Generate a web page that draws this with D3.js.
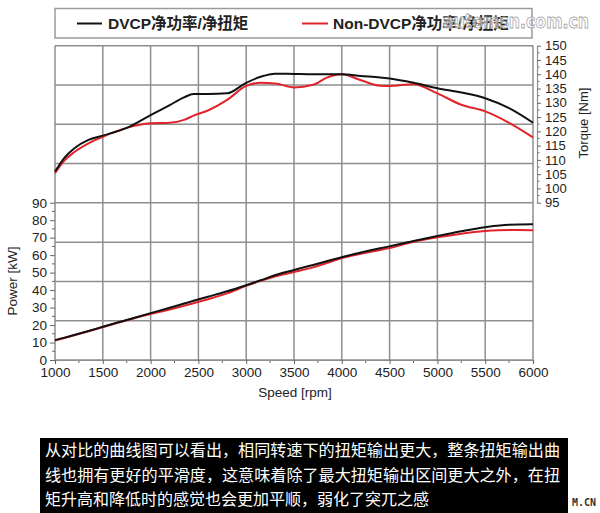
<!DOCTYPE html>
<html><head><meta charset="utf-8">
<script src="https://cdnjs.cloudflare.com/ajax/libs/d3/7.8.5/d3.min.js"></script>
<style>
html,body{margin:0;padding:0;background:#fff;}
svg{display:block;}
</style></head>
<body>
<svg id="chart" width="600" height="513"></svg>
<script>
// ---- data ----
const speed = [1000,1100,1200,1350,1500,1750,2000,2200,2350,2450,2600,2800,3000,3150,3300,3500,3700,3850,4000,4200,4400,4500,4750,5000,5250,5500,5750,6000];
const torqueDVCP = [105.9,110.8,114.0,117.0,118.5,121.2,125.7,129.2,131.9,133.1,133.1,133.3,137.0,139.1,140.2,140.1,140.0,140.0,140.0,139.4,138.9,138.5,137.0,135.1,133.6,131.6,128.1,123.0];
const torqueNon = [105.3,109.8,112.7,115.8,118.1,121.2,122.8,123.0,124.0,125.5,127.3,131.0,135.9,137.0,136.8,135.4,136.3,138.9,140.0,137.9,136.0,135.9,136.5,133.3,129.3,127.0,123.0,117.9];
const powerDVCP = [11.4,12.8,14.3,16.6,19.0,22.9,26.8,29.9,32.3,33.9,36.2,39.3,42.8,45.6,48.5,51.5,54.4,56.6,58.8,61.5,63.9,65.0,68.1,71.0,73.7,76.0,77.4,77.6];
const powerNon = [11.2,12.6,14.1,16.4,18.8,22.7,26.3,28.9,31.0,32.5,34.8,38.1,42.4,45.3,47.8,50.3,53.0,55.6,58.3,60.8,62.9,64.0,67.6,70.2,72.3,73.8,74.4,74.3];
const speedTicks = [1000,1500,2000,2500,3000,3500,4000,4500,5000,5500,6000];
const powerTicks = [0,10,20,30,40,50,60,70,80,90];
const torqueTicks = [95,100,105,110,115,120,125,130,135,140,145,150];
const seriesNames = ["DVCP净功率/净扭矩","Non-DVCP净功率/净扭矩"];
const captionLines = [
  "从对比的曲线图可以看出，相同转速下的扭矩输出更大，整条扭矩输出曲",
  "线也拥有更好的平滑度，这意味着除了最大扭矩输出区间更大之外，在扭",
  "矩升高和降低时的感觉也会更加平顺，弱化了突兀之感"
];

// ---- layout ----
const L = 55, R = 533, T = 45.7, B = 360;
const svg = d3.select("#chart");
const font = "'Liberation Sans', Arial, 'Noto Sans CJK SC', sans-serif";
const gridColor = "#8e8e8e";
const black = "#111", red = "#e0242a";

const x = d3.scaleLinear().domain([1000,6000]).range([L,R]);
const yP = d3.scaleLinear().domain([0,90]).range([B,202.7]);
const yT = d3.scaleLinear().domain([95,150]).range([202.7,T]);
const yGrid = d3.scaleLinear().domain([0,8]).range([B,T]);

// legend box
svg.append("rect").attr("x",55).attr("y",8.5).attr("width",477).attr("height",29.5)
  .attr("fill","#fff").attr("stroke","#9a9a9a").attr("stroke-width",1.5);
const leg = [{x1:77,x2:102,tx:108,c:black,t:seriesNames[0]},{x1:302,x2:328,tx:333,c:red,t:seriesNames[1]}];
leg.forEach(d=>{
  svg.append("line").attr("x1",d.x1).attr("x2",d.x2).attr("y1",23.5).attr("y2",23.5)
    .attr("stroke",d.c).attr("stroke-width",2);
  svg.append("text").attr("x",d.tx).attr("y",29).attr("font-family",font)
    .attr("font-size",15.5).attr("font-weight","bold").attr("fill","#222").text(d.t);
});

// grid
const g = svg.append("g");
g.selectAll("line.h").data(d3.range(9)).join("line")
  .attr("x1",L).attr("x2",R).attr("y1",d=>yGrid(d)).attr("y2",d=>yGrid(d))
  .attr("stroke",gridColor).attr("stroke-width",1.5);
g.selectAll("line.v").data(speedTicks).join("line")
  .attr("x1",d=>x(d)).attr("x2",d=>x(d)).attr("y1",T).attr("y2",B)
  .attr("stroke",gridColor).attr("stroke-width",1.5);

// axes
function styleAxis(sel){
  sel.select(".domain").attr("stroke",gridColor).attr("stroke-width",1.2);
  sel.selectAll(".tick line").attr("stroke","#666");
  sel.selectAll(".tick text").attr("font-family",font).attr("fill","#222");
}
const xMinor = d3.range(1250,6000,500);
svg.append("g").selectAll("line").data(xMinor).join("line")
  .attr("x1",d=>x(d)).attr("x2",d=>x(d)).attr("y1",B).attr("y2",B+3).attr("stroke","#666");
const xAxis = svg.append("g").attr("transform",`translate(0,${B})`)
  .call(d3.axisBottom(x).tickValues(speedTicks).tickFormat(d3.format("d")).tickSize(4).tickPadding(3));
styleAxis(xAxis); xAxis.selectAll(".tick text").attr("font-size",13.5);

const pMinor = d3.range(5,90,5).filter(v=>v%10!==0);
svg.append("g").selectAll("line").data(pMinor).join("line")
  .attr("x1",L-3).attr("x2",L).attr("y1",d=>yP(d)).attr("y2",d=>yP(d)).attr("stroke","#666");
const pAxis = svg.append("g").attr("transform",`translate(${L},0)`)
  .call(d3.axisLeft(yP).tickValues(powerTicks).tickSize(5).tickPadding(3));
styleAxis(pAxis); pAxis.select(".domain").remove(); pAxis.selectAll(".tick text").attr("font-size",13.5);

const RA = 537;
const tMinor = d3.range(97.5,150,2.5).filter(v=>v%5!==0);
svg.append("g").selectAll("line").data(tMinor).join("line")
  .attr("x1",RA).attr("x2",RA+2.5).attr("y1",d=>yT(d)).attr("y2",d=>yT(d)).attr("stroke","#666");
const tAxis = svg.append("g").attr("transform",`translate(${RA},0)`)
  .call(d3.axisRight(yT).tickValues(torqueTicks).tickSize(4).tickSizeOuter(0).tickPadding(4));
styleAxis(tAxis); tAxis.selectAll(".tick text").attr("font-size",13);

// axis titles
svg.append("text").attr("x",295).attr("y",397).attr("text-anchor","middle")
  .attr("font-family",font).attr("font-size",13.5).attr("fill","#222").text("Speed [rpm]");
svg.append("text").attr("transform","translate(17,281) rotate(-90)").attr("text-anchor","middle")
  .attr("font-family",font).attr("font-size",13.5).attr("fill","#222").text("Power [kW]");
svg.append("text").attr("transform","translate(588,123) rotate(-90)").attr("text-anchor","middle")
  .attr("font-family",font).attr("font-size",13).attr("fill","#222").text("Torque [Nm]");

// curves
const rows = speed.map((s,i)=>({s,tD:torqueDVCP[i],tN:torqueNon[i],pD:powerDVCP[i],pN:powerNon[i]}));
const lineGen = (key,scale)=>d3.line().x(d=>x(d.s)).y(d=>scale(d[key])).curve(d3.curveMonotoneX);
[["tN",yT,red],["pN",yP,red],["tD",yT,black],["pD",yP,black]].forEach(([k,sc,c])=>{
  svg.append("path").datum(rows).attr("d",lineGen(k,sc)).attr("fill","none")
    .attr("stroke",c).attr("stroke-width",2).attr("stroke-linejoin","round");
});

// watermark
svg.append("text").attr("x",443).attr("y",28).attr("font-family","'DejaVu Sans', sans-serif")
  .attr("font-size",19).attr("font-weight","bold").attr("fill","rgba(255,255,255,0.55)")
  .attr("stroke","#a8a8a8").attr("stroke-width",0.9).attr("textLength",146).attr("lengthAdjust","spacingAndGlyphs")
  .text("automsn.com.cn");

// caption
svg.append("rect").attr("x",40).attr("y",438).attr("width",528).attr("height",75).attr("fill","#000");
captionLines.forEach((t,i)=>{
  const tx = svg.append("text").attr("x",45).attr("y",456+i*24.5)
    .attr("font-family","'Noto Sans CJK SC', sans-serif").attr("font-size",16).attr("fill","#fff").text(t);
  if(i<2) tx.attr("textLength",515).attr("lengthAdjust","spacingAndGlyphs");
});
svg.append("text").attr("x",572).attr("y",506).attr("font-family","'DejaVu Sans Mono', monospace")
  .attr("font-size",10).attr("font-weight","bold").attr("fill","#333").text("M.CN");
</script>
</body></html>
